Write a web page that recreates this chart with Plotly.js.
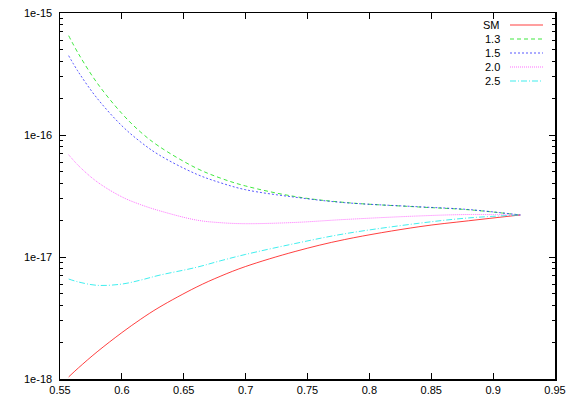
<!DOCTYPE html>
<html>
<head>
<meta charset="utf-8">
<script src="https://cdn.plot.ly/plotly-3.0.1.min.js"></script>
<style>
  html, body { margin: 0; padding: 0; background: #fff; }
  #chart { width: 575px; height: 402px; }
</style>
</head>
<body>
<div id="chart"></div>
<script>
// x positions shared by every curve
const xs = [0.557, 0.565, 0.58, 0.6, 0.615, 0.63, 0.66, 0.68, 0.7, 0.74, 0.78, 0.84, 0.88, 0.922];

const seriesNames = ["SM", "1.3", "1.5", "2.0", "2.5"];
const ySM = [1.04e-18, 1.236e-18, 1.67e-18, 2.40e-18, 3.08e-18, 3.86e-18, 5.65e-18, 6.98e-18, 8.36e-18, 1.11e-17, 1.39e-17, 1.77e-17, 1.98e-17, 2.21e-17];
const y13 = [6.52e-16, 4.62e-16, 2.67e-16, 1.50e-16, 1.06e-16, 8.07e-17, 5.36e-17, 4.42e-17, 3.82e-17, 3.13e-17, 2.80e-17, 2.57e-17, 2.44e-17, 2.21e-17];
const y15 = [4.47e-16, 3.27e-16, 2.0e-16, 1.19e-16, 8.79e-17, 6.87e-17, 4.79e-17, 4.05e-17, 3.56e-17, 3.09e-17, 2.79e-17, 2.58e-17, 2.45e-17, 2.21e-17];
const y20 = [6.89e-17, 5.6e-17, 4.13e-17, 3.11e-17, 2.69e-17, 2.40e-17, 2.01e-17, 1.91e-17, 1.875e-17, 1.92e-17, 2.03e-17, 2.17e-17, 2.23e-17, 2.21e-17];
const y25 = [6.6e-18, 6.24e-18, 5.86e-18, 6.0e-18, 6.46e-18, 7.08e-18, 8.22e-18, 9.33e-18, 1.05e-17, 1.29e-17, 1.55e-17, 1.89e-17, 2.09e-17, 2.21e-17];

const yTickVals = [1e-18, 1e-17, 1e-16, 1e-15];
const yTickText = ["1e-18", "1e-17", "1e-16", "1e-15"];
const xTickVals = [0.55, 0.6, 0.65, 0.7, 0.75, 0.8, 0.85, 0.9, 0.95];

const styles = [
  { color: "#ff0000", dash: "solid" },
  { color: "#00e000", dash: "4px,3px" },
  { color: "#2020ff", dash: "2px,2px" },
  { color: "#ff40ff", dash: "1px,1px" },
  { color: "#00e8e8", dash: "6px,2px,1px,2px" },
];

const allY = [ySM, y13, y15, y20, y25];

const traces = allY.map((y, i) => ({
  type: "scatter",
  mode: "lines",
  name: seriesNames[i],
  x: xs,
  y,
  line: { color: styles[i].color, dash: styles[i].dash, width: 1, shape: "spline", smoothing: 1 },
  showlegend: false,
  opacity: 0.75,
}));

const annotations = [];
const shapes = [];

// y tick labels sit close to the frame, like gnuplot
yTickVals.forEach((v, i) => {
  annotations.push({
    xref: "paper", yref: "y",
    x: 0, y: Math.log10(v),
    xanchor: "right", yanchor: "middle", xshift: -6,
    text: yTickText[i], showarrow: false,
    font: { size: 11, color: "#000" },
  });
});

// gnuplot-like key: label on the left, line sample on the right
seriesNames.forEach((name, i) => {
  const yPix = 25 + i * 14;
  const yPaper = 1 - (yPix - 13) / 366;
  annotations.push({
    xref: "paper", yref: "paper",
    x: (502 - 60) / 495, y: yPaper,
    xanchor: "right", yanchor: "middle",
    text: name, showarrow: false,
    font: { size: 11, color: "#000" },
  });
  shapes.push({
    type: "line", xref: "paper", yref: "paper",
    x0: (510 - 60) / 495, x1: (543 - 60) / 495,
    y0: yPaper, y1: yPaper,
    line: { color: styles[i].color, dash: styles[i].dash, width: 1 },
    opacity: 0.75,
  });
});

const axisCommon = {
  showgrid: false,
  zeroline: false,
  showline: true,
  linecolor: "#000",
  linewidth: 1.5,
  mirror: "allticks",
  ticks: "inside",
  tickcolor: "#000",
  tickwidth: 1,
  ticklen: 6,
  tickfont: { family: "Liberation Sans, Arial, sans-serif", size: 11, color: "#000" },
};

const layout = {
  width: 575,
  height: 402,
  margin: { l: 60, r: 20, t: 13, b: 23 },
  paper_bgcolor: "#fff",
  plot_bgcolor: "#fff",
  font: { family: "Liberation Sans, Arial, sans-serif", size: 11, color: "#000" },
  xaxis: Object.assign({}, axisCommon, {
    range: [0.55, 0.95],
    tickmode: "array",
    tickvals: xTickVals,
    ticktext: xTickVals.map((v) => String(v)),
  }),
  yaxis: Object.assign({}, axisCommon, {
    type: "log",
    range: [-18, -15],
    tickmode: "array",
    tickvals: yTickVals,
    showticklabels: false,
    minor: { ticks: "inside", ticklen: 3, tickcolor: "#000", tickwidth: 1, dtick: "D1", showgrid: false },
  }),
  annotations,
  shapes,
  showlegend: false,
};

Plotly.newPlot("chart", traces, layout, { displayModeBar: false, staticPlot: true });
</script>
</body>
</html>
